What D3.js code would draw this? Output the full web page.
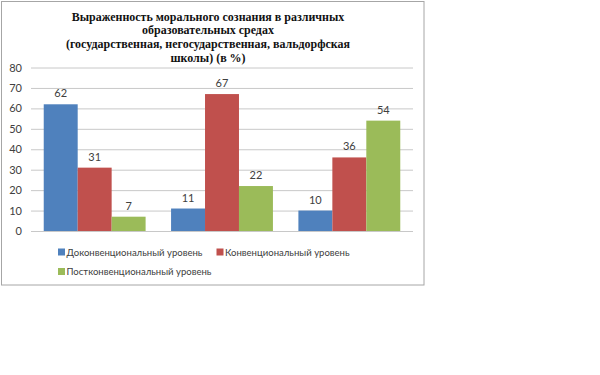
<!DOCTYPE html>
<html><head><meta charset="utf-8">
<script src="https://cdn.jsdelivr.net/npm/d3@7"></script>
<style>body{margin:0;background:#fff}</style>
</head><body>
<svg id="c" width="600" height="375"></svg>
<script>
const categories = ["Государственная", "Негосударственная", "Вальдорфская"];
const seriesNames = ["Доконвенциональный уровень", "Конвенциональный уровень", "Постконвенциональный уровень"];
const seriesColors = ["#4F81BD", "#C0504D", "#9BBB59"];
const preconventional = [62, 11, 10];
const conventional = [31, 67, 36];
const postconventional = [7, 22, 54];
const yTicks = [0, 10, 20, 30, 40, 50, 60, 70, 80];
const titleLines = ["Выраженность морального сознания в различных", "образовательных средах", "(государственная, негосударственная, вальдорфская", "школы) (в %)"];

const series = [preconventional, conventional, postconventional];
const svg = d3.select("#c");
const font = "Lato, 'Open Sans', sans-serif";
const serif = "\"Liberation Serif\", \"Times New Roman\", Times, \"DejaVu Serif\", serif";

svg.append("rect").attr("x", 1.5).attr("y", 1.5).attr("width", 422.5).attr("height", 283.5)
  .attr("fill", "#fff").attr("stroke", "#a6a6a6").attr("stroke-width", 1);

const x0 = d3.scaleBand().domain(categories).range([31, 413]).paddingInner(0.2).paddingOuter(0.1);
const x1 = d3.scaleBand().domain(d3.range(3)).range([0, x0.bandwidth()]);
const y = d3.scaleLinear().domain([0, 80]).range([231, 67.5]);

const yAxis = d3.axisLeft(y).tickValues(yTicks).tickSize(-(413 - 31)).tickPadding(9);
const gy = svg.append("g").attr("transform", "translate(31,0)").call(yAxis);
gy.select(".domain").remove();
gy.selectAll(".tick line").attr("stroke", "#c8c8c8").attr("stroke-width", 1);
gy.selectAll(".tick text").attr("fill", "#404040").attr("font-family", font).attr("font-size", 11);

const groups = svg.append("g").selectAll("g").data(categories).join("g")
  .attr("transform", d => `translate(${x0(d)},0)`);
groups.each(function(cat, ci) {
  const g = d3.select(this);
  series.forEach((s, si) => {
    g.append("rect").attr("x", x1(si)).attr("width", x1.bandwidth())
      .attr("y", y(s[ci])).attr("height", y(0) - y(s[ci])).attr("fill", seriesColors[si]);
    g.append("text").attr("x", x1(si) + x1.bandwidth() / 2).attr("y", y(s[ci]) - 7)
      .attr("text-anchor", "middle").attr("font-family", font).attr("font-size", 11)
      .attr("fill", "#404040").text(s[ci]);
  });
});

const title = svg.append("text").attr("text-anchor", "middle")
  .attr("font-family", serif).attr("font-weight", "bold")
  .attr("font-size", 13).attr("fill", "#111");
const tspans = titleLines.map((t, i) => title.append("tspan").attr("x", 208).attr("y", 20.5 + i * 13.8).text(t));
// fit the first title line to the reference width
const w0 = tspans[0].node().getComputedTextLength();
if (w0 > 0) title.attr("font-size", Math.max(10, Math.min(15, 13 * 273 / w0)));

const legendItems = [
  {i: 0, x: 58, y: 252},
  {i: 1, x: 216.5, y: 252},
  {i: 2, x: 58, y: 271.5}
];
const lg = svg.append("g");
const lt = [];
legendItems.forEach(it => {
  lg.append("rect").attr("x", it.x).attr("y", it.y - 3.5).attr("width", 7).attr("height", 7).attr("fill", seriesColors[it.i]);
  lt.push(lg.append("text").attr("x", it.x + 8.5).attr("y", it.y + 3.6).attr("font-family", font).attr("font-size", 10.5)
    .attr("fill", "#404040").text(seriesNames[it.i]));
});
const lw = lt[0].node().getComputedTextLength();
if (lw > 0) lt.forEach(t => t.attr("font-size", 10.5 * 136 / lw));
</script>
</body></html>
